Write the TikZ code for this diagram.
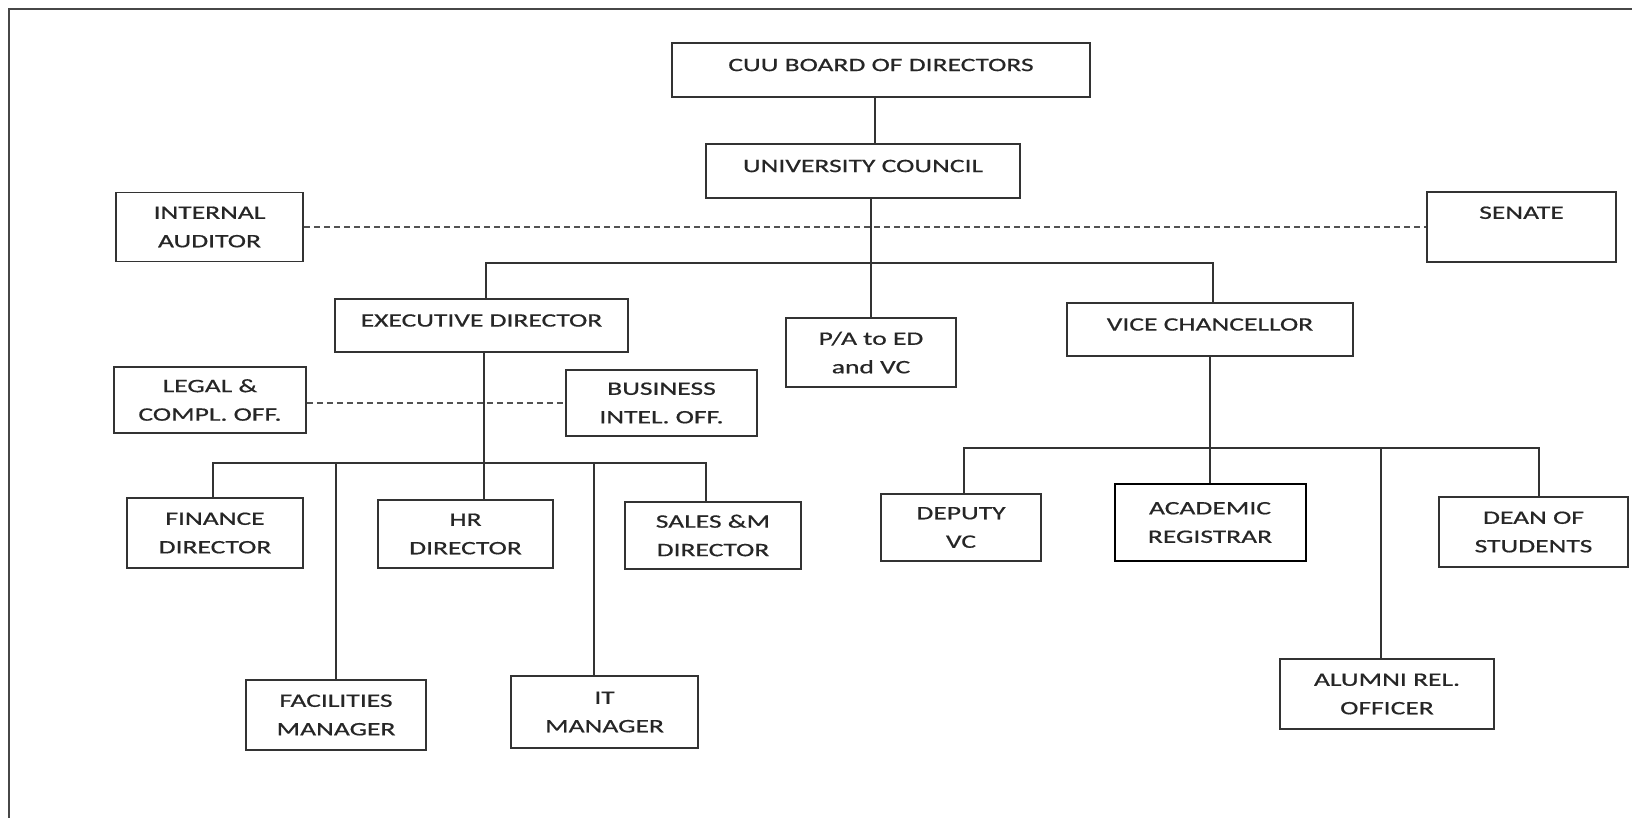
\documentclass[tikz,border=0pt]{standalone}
\usepackage{fontspec}
\setmainfont[FakeStretch=1.45,FakeBold=0.6]{Carlito}
\definecolor{linec}{HTML}{333333}
\definecolor{textc}{HTML}{262626}
\begin{document}
\begin{tikzpicture}[x=1pt,y=-1pt,
  box/.style={draw=linec, line width=1.6pt, rectangle, inner sep=0pt, align=center,
    text=textc, font=\fontsize{19}{28.5}\selectfont},
  raised/.style={text height=12pt, text depth=9.8pt},
  conn/.style={draw=linec, line width=1.5pt},
  dashconn/.style={draw=linec!85, line width=1.5pt, dash pattern=on 6pt off 4pt}]
\useasboundingbox (0,0) rectangle (1632,817);
\fill[white] (0,0) rectangle (1632,817);
% outer frame
\draw[draw=linec!90, line width=2pt] (9,820) -- (9,9) -- (1640,9);

% nodes
\node[box, raised, minimum width=418, minimum height=54] (cuu) at (881,70) {CUU BOARD OF DIRECTORS};
\node[box, raised, minimum width=314, minimum height=54] (uc) at (863,171) {UNIVERSITY COUNCIL};
\node[box, minimum width=187, minimum height=69] (ia) at (209.5,227) {INTERNAL\\AUDITOR};
\node[box, minimum width=189, minimum height=70] (senate) at (1521.5,227) {SENATE\\\phantom{S}};
\node[box, raised, minimum width=293, minimum height=53] (ed) at (481.5,325.5) {EXECUTIVE DIRECTOR};
\node[box, minimum width=170, minimum height=69] (pa) at (871,352.5) {P/A to ED\\and VC};
\node[box, raised, minimum width=286, minimum height=53] (vc) at (1210,329.5) {VICE CHANCELLOR};
\node[box, minimum width=192, minimum height=66] (legal) at (210,400) {LEGAL \&\\COMPL. OFF.};
\node[box, minimum width=191, minimum height=66] (bio) at (661.5,403) {BUSINESS\\INTEL. OFF.};
\node[box, minimum width=176, minimum height=70] (fin) at (215,533) {FINANCE\\DIRECTOR};
\node[box, minimum width=175, minimum height=68] (hr) at (465.5,534) {HR\\DIRECTOR};
\node[box, minimum width=176, minimum height=67] (sales) at (713,535.5) {SALES \&M\\DIRECTOR};
\node[box, minimum width=180, minimum height=70] (fac) at (336,715) {FACILITIES\\MANAGER};
\node[box, minimum width=187, minimum height=72] (it) at (604.5,712) {IT\\MANAGER};
\node[box, minimum width=160, minimum height=67] (dep) at (961,527.5) {DEPUTY\\VC};
\node[box, draw=black, line width=2pt, minimum width=191, minimum height=77] (acad) at (1210,522.5) {ACADEMIC\\REGISTRAR};
\node[box, minimum width=214, minimum height=70] (alum) at (1387,694) {ALUMNI REL.\\OFFICER};
\node[box, minimum width=189, minimum height=70] (dean) at (1533.5,532) {DEAN OF\\STUDENTS};

% junction coordinates
\coordinate (x1) at (875,0);
\coordinate (b1) at (486,263);
\coordinate (b2) at (1213,263);
\coordinate (x2) at (484,0);
\coordinate (f1) at (213,463);
\coordinate (s1) at (706,463);
\coordinate (i1) at (594,463);
\coordinate (d1) at (964,448);
\coordinate (e1) at (1539,448);
\coordinate (a1) at (1381,448);

% connectors
\draw[conn] (cuu.south -| x1) -- (uc.north -| x1);
\draw[conn] (uc.south -| pa.north) -- (pa.north);
\draw[conn] (ed.north -| b1) -- (b1) -- (b2) -- (vc.north -| b2);
\draw[dashconn] (ia.east) -- (ia.east -| senate.west);
\draw[conn] (ed.south -| x2) -- (hr.north -| x2);
\draw[dashconn] (bio.west -| legal.east) -- (bio.west);
\draw[conn] (fin.north -| f1) -- (f1) -- (s1) -- (sales.north -| s1);
\draw[conn] (fac.north |- f1) -- (fac.north);
\draw[conn] (i1) -- (it.north -| i1);
\draw[conn] (vc.south) -- (acad.north);
\draw[conn] (dep.north -| d1) -- (d1) -- (e1) -- (dean.north -| e1);
\draw[conn] (a1) -- (alum.north -| a1);
\end{tikzpicture}
\end{document}
